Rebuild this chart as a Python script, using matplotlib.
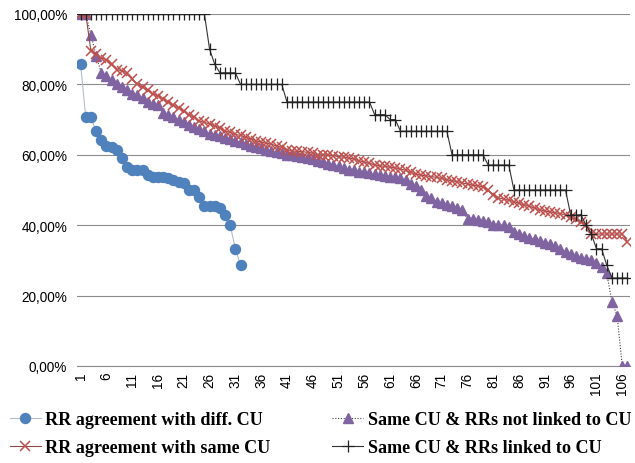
import matplotlib
matplotlib.use("Agg")
import matplotlib.pyplot as plt
from matplotlib.ticker import FuncFormatter, FixedLocator

# values in percent
diff_cu = [85.7, 70.6, 70.6, 66.7, 64.3, 62.5, 62.1, 61.5, 59.1, 56.5,
           55.6, 55.6, 55.6, 54.2, 53.8, 53.8, 53.6, 53.3, 52.9, 52.2,
           51.9, 50.0, 50.0, 47.9, 45.5, 45.5, 45.5, 44.8, 42.9, 40.0,
           33.3, 28.6]

same_cu = [100.0, 100.0, 89.5, 88.5, 87.5, 87.0, 85.7, 84.2, 83.9, 83.3,
           81.5, 80.0, 79.2, 78.3, 77.3, 76.7, 75.9, 75.0, 74.1, 73.3,
           72.4, 71.4, 70.6, 69.6, 69.2, 68.8, 68.2, 67.6, 66.7, 66.4,
           65.8, 65.5, 65.0, 64.5, 64.0, 63.6, 63.3, 63.0, 62.5, 62.1,
           61.5, 61.1, 61.0, 60.9, 60.7, 60.5, 60.0, 60.0, 60.0, 59.7,
           59.5, 59.3, 59.1, 58.8, 58.3, 57.9, 57.6, 57.1, 56.9, 56.7,
           56.5, 56.3, 56.0, 55.6, 55.0, 54.5, 54.2, 54.0, 53.8, 53.6,
           53.3, 52.9, 52.6, 52.4, 52.0, 51.7, 51.4, 51.2, 50.9, 50.0,
           48.6, 47.8, 47.4, 47.1, 46.7, 46.2, 45.8, 45.5, 44.8, 44.4,
           44.0, 43.8, 43.5, 43.3, 42.9, 42.3, 41.7, 41.0, 40.0, 37.5,
           37.5, 37.5, 37.5, 37.5, 37.5, 37.5, 35.3]

not_linked = [100.0, 100.0, 94.1, 88.2, 83.3, 82.4, 81.3, 80.0, 79.2, 78.3,
              77.3, 76.9, 76.2, 75.0, 74.4, 74.1, 72.0, 71.4, 70.8, 70.0,
              69.2, 68.4, 67.9, 67.2, 66.7, 66.0, 65.6, 65.4, 64.9, 64.5,
              64.0, 63.6, 63.0, 62.5, 62.2, 61.9, 61.5, 61.1, 60.7, 60.4,
              60.0, 60.0, 59.6, 59.3, 59.1, 58.8, 58.3, 57.9, 57.4, 57.1,
              56.8, 56.3, 55.8, 55.6, 55.2, 55.0, 54.8, 54.5, 54.2, 54.0,
              53.8, 53.6, 53.3, 52.9, 51.7, 51.2, 50.0, 48.3, 47.6, 46.7,
              46.2, 45.8, 45.5, 45.0, 44.4, 41.7, 41.7, 41.5, 41.2, 41.0,
              40.0, 40.0, 40.0, 39.5, 38.0, 37.5, 37.0, 36.4, 36.0, 35.5,
              35.0, 34.6, 34.0, 33.3, 32.5, 31.8, 31.3, 30.8, 30.4, 30.0,
              29.4, 28.0, 26.3, 18.2, 14.3, 0.0, 0.0]

linked = [100.0] * 25 + [90.0, 85.7] + [83.3] * 4 + [80.0] * 9 + [75.0] * 17 \
    + [71.4] * 3 + [70.0] * 2 + [66.7] * 10 + [60.0] * 7 + [57.1] * 5 \
    + [50.0] * 11 + [42.9] * 3 + [40.0, 37.5, 33.3, 33.3, 28.6] + [25.0] * 4

x_ticks = list(range(1, 107, 5))


def xs(vals):
    return list(range(1, len(vals) + 1))


fig = plt.figure(figsize=(6.35, 4.64), dpi=100)
ax = fig.add_axes([77 / 635, 1 - 367 / 464, 553 / 635, 352 / 464])

h_blue, = ax.plot(xs(diff_cu), [v / 100 for v in diff_cu], color="#b4bccb", lw=0.8,
                  marker="o", ms=7.2, mfc="#4f81bd", mec="#4f81bd", zorder=3,
                  label="RR agreement with diff. CU")
h_purp, = ax.plot(xs(not_linked), [v / 100 for v in not_linked], color="#404040", lw=0.8,
                  ls=(0, (1, 1.5)), marker="^", ms=7.5, mfc="#8064a2", mec="#8064a2",
                  zorder=4, label="Same CU & RRs not linked to CU")
h_red, = ax.plot(xs(same_cu), [v / 100 for v in same_cu], color="#8c4a48", lw=0.8,
                 marker="x", ms=6.5, mew=1.1, mec="#c0504d", zorder=5,
                 label="RR agreement with same CU")
h_blk, = ax.plot(xs(linked), [v / 100 for v in linked], color="#333333", lw=0.8,
                 marker="+", ms=8, mew=0.9, mec="#222222", zorder=6,
                 label="Same CU & RRs linked to CU")

ax.set_xlim(0.3, 107.5)
ax.set_ylim(0, 1.0)
ax.yaxis.set_major_locator(FixedLocator([0, 0.2, 0.4, 0.6, 0.8, 1.0]))
ax.yaxis.set_major_formatter(FuncFormatter(lambda v, p: f"{v * 100:.2f}%".replace(".", ",")))
ax.set_xticks(x_ticks)
ax.set_xticklabels([str(t) for t in x_ticks], rotation=90)
ax.grid(axis="y", color="#8c8c8c", lw=0.8)
ax.set_axisbelow(True)
for s in ["top", "right", "left"]:
    ax.spines[s].set_visible(False)
ax.spines["bottom"].set_color("#8c8c8c")
ax.tick_params(axis="both", length=0, labelsize=9.8, colors="black")
ax.tick_params(axis="y", pad=7)
ax.tick_params(axis="x", pad=4)
for lab in ax.get_xticklabels() + ax.get_yticklabels():
    lab.set_family("Liberation Sans")

fig.legend(handles=[h_blue, h_red, h_purp, h_blk], ncol=2, loc="center",
           bbox_to_anchor=(0.505, 0.063), frameon=False,
           prop={"family": "Liberation Serif", "weight": "bold", "size": 13.1},
           handlelength=1.7, handletextpad=0.25, columnspacing=3.4,
           labelspacing=0.6)

fig.savefig("out.png", dpi=100)
